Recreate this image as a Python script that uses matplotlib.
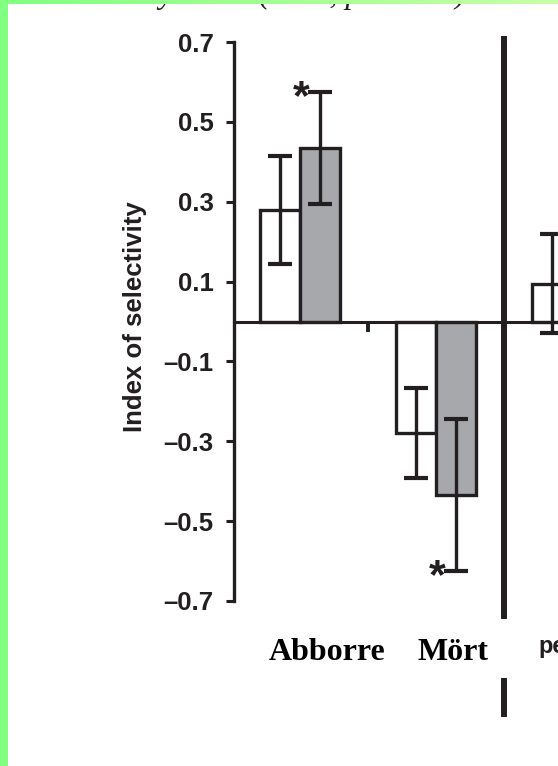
import numpy as np
import matplotlib
matplotlib.use("Agg")
import matplotlib.pyplot as plt
from matplotlib.ticker import FuncFormatter

# ---- data -------------------------------------------------------------
categories = ["Abborre", "Mört", "perch"]
open_vals = [0.28, -0.28, 0.095]
open_err = [0.135, 0.1125, 0.125]
grey_vals = [0.435, -0.435, np.nan]
grey_err = [0.14, 0.19, np.nan]
yticks = [0.7, 0.5, 0.3, 0.1, -0.1, -0.3, -0.5, -0.7]
star_marks = [(0, 1), (1, 1)]  # (category, series) flagged as significant

INK = "#231f20"
GREY = "#a7a8ab"
W, H = 558, 766

fig = plt.figure(figsize=(W / 100, H / 100), dpi=100)
fig.patch.set_facecolor("white")

# green frame on the left and a fading strip along the top
fig.patches.append(plt.Rectangle((0, 0), 8 / W, 1, transform=fig.transFigure,
                                 facecolor="#80ff80", edgecolor="none", zorder=5))
band = fig.add_axes([0, 1 - 4 / H, 1, 4 / H], zorder=6)
grad = np.linspace(0, 1, 256)[None, :]
c0 = np.array([0x80, 0xff, 0x80]) / 255
c1 = np.array([0xc8, 0xff, 0xa8]) / 255
band.imshow(c0 + (c1 - c0) * grad[..., None], aspect="auto")
band.set_axis_off()

# caption line running off the top edge
fig.text(466 / W, 1 - 3 / H, "Selectivity index (Ivlev, p < 0.05)",
         ha="right", va="baseline", fontsize=23, style="italic",
         family="Liberation Serif", color=INK, zorder=1)

# ---- axes -------------------------------------------------------------
left_px, right_px, top_px, bot_px = 234, 558, 42, 601
ax = fig.add_axes([left_px / W, 1 - bot_px / H, (right_px - left_px) / W,
                   (bot_px - top_px) / H])
px_per_unit = 136.0
center0 = 300.0
ax.set_xlim((left_px - center0) / px_per_unit, (right_px - center0) / px_per_unit)
ax.set_ylim(-0.7, 0.7)

x = np.arange(len(categories))
w = 40 / px_per_unit
ekw = dict(ecolor=INK, elinewidth=2.4, capsize=8.5, capthick=3.0, zorder=4)
ax.bar(x - w / 2, open_vals, w, color="white", edgecolor=INK, linewidth=2.4,
       zorder=2)
ax.bar(x + w / 2, grey_vals, w, color=GREY, edgecolor=INK, linewidth=2.4,
       zorder=2)
ax.errorbar(x - w / 2, open_vals, yerr=open_err, fmt="none", **ekw)
ax.errorbar(x + w / 2, grey_vals, yerr=grey_err, fmt="none", **ekw)

# significance stars beside the outer end of the error bar
for ci, si in star_marks:
    vals = open_vals if si == 0 else grey_vals
    errs = open_err if si == 0 else grey_err
    xc = x[ci] + (w / 2 if si == 1 else -w / 2)
    tip = vals[ci] + np.sign(vals[ci]) * errs[ci]
    ax.text(xc - 0.135, tip - 0.016, "*", ha="center", va="center",
            fontsize=31, fontweight="bold", family="Liberation Sans",
            color=INK, zorder=5)

# spines / ticks
for s in ("top", "right"):
    ax.spines[s].set_visible(False)
ax.spines["left"].set_linewidth(2.4)
ax.spines["left"].set_color(INK)
ax.spines["bottom"].set_position(("data", 0))
ax.spines["bottom"].set_linewidth(2.2)
ax.spines["bottom"].set_color(INK)
ax.spines["bottom"].set_zorder(3)

ax.set_yticks(yticks)
ax.yaxis.set_major_formatter(FuncFormatter(
    lambda v, p: ("\u2013" if v < 0 else "") + f"{abs(v):.1f}"))
ax.tick_params(axis="y", direction="out", length=5.5, width=2.2, color=INK,
               pad=9, labelsize=18.5, labelcolor=INK)
for lab in ax.get_yticklabels():
    lab.set_fontweight("bold")
    lab.set_family("Liberation Sans")

ax.set_xticks([0.5])
ax.set_xticklabels([""])
ax.tick_params(axis="x", direction="out", length=7, width=2.8, color=INK)

# separator between the two panels
xt = ax.get_xaxis_transform()
for y0, y1 in [(36, 619), (678, 717)]:
    ax.plot([1.5, 1.5], [(bot_px - y0) / (bot_px - top_px),
                         (bot_px - y1) / (bot_px - top_px)],
            transform=xt, color=INK, lw=4.3, solid_capstyle="butt",
            clip_on=False, zorder=6)

# y label
fig.text(135 / W, 1 - 317 / H, "Index of selectivity", rotation=90,
         ha="center", va="center", fontsize=18.5, fontweight="bold",
         family="Liberation Sans", color=INK)

# category names
fig.text(327 / W, 1 - 652 / H, categories[0], ha="center", va="center",
         fontsize=23, fontweight="bold", family="Liberation Serif", color="black")
fig.text(453 / W, 1 - 652 / H, categories[1], ha="center", va="center",
         fontsize=23, fontweight="bold", family="Liberation Serif", color="black")
fig.text(538 / W, 1 - 647 / H, categories[2], ha="left", va="center",
         fontsize=17, fontweight="bold", family="Liberation Sans", color=INK)

fig.savefig("out.png", dpi=100)
